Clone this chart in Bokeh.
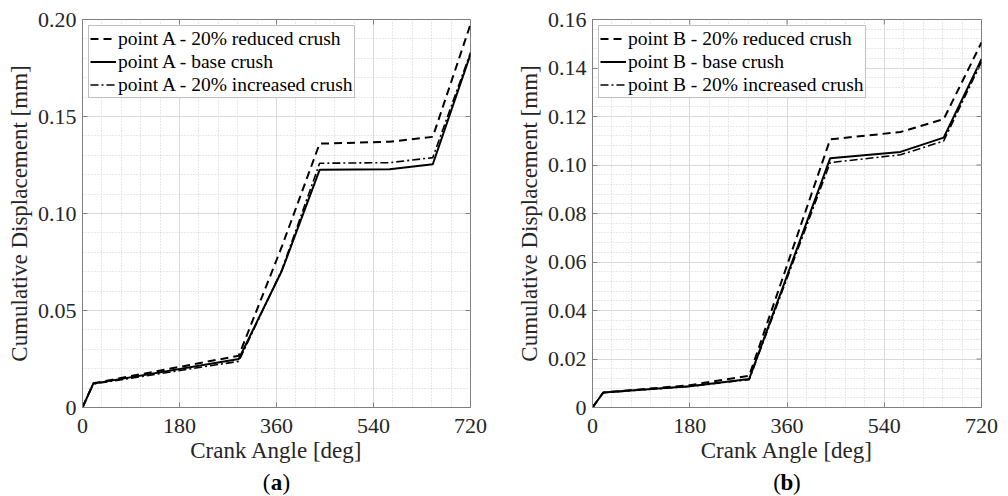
import math
from bokeh.plotting import figure
from bokeh.layouts import column, row
from bokeh.models import FixedTicker, CustomJSTickFormatter, Label, Legend, LegendItem
from bokeh.embed import file_html
from bokeh.resources import INLINE

# ---------------- data ----------------
angle_a = [0, 20, 290, 370, 440, 570, 650, 720]
a_reduced = [0, 0.0125, 0.0267, 0.083, 0.136, 0.137, 0.1395, 0.1975]
a_base = [0, 0.0123, 0.0250, 0.0705, 0.1225, 0.1228, 0.1254, 0.182]
a_increased = [0, 0.0121, 0.0238, 0.071, 0.1259, 0.1262, 0.1288, 0.183]

angle_b = [0, 20, 180, 290, 440, 570, 650, 720]
b_reduced = [0, 0.0062, 0.0092, 0.0131, 0.1106, 0.1136, 0.1189, 0.1505]
b_base = [0, 0.0062, 0.0088, 0.0118, 0.1028, 0.1054, 0.1113, 0.1436]
b_increased = [0, 0.0061, 0.0087, 0.0115, 0.1010, 0.1042, 0.1099, 0.1425]

x_ticks = [0, 180, 360, 540, 720]
x_minor = list(range(0, 721, 36))
a_yticks = [0, 0.05, 0.10, 0.15, 0.20]
a_yminor = [i / 100 for i in range(0, 21)]
b_yticks = [0, 0.02, 0.04, 0.06, 0.08, 0.10, 0.12, 0.14, 0.16]
b_yminor = [i * 0.004 for i in range(0, 41)]

FONT = "Liberation Serif"
H_MAIN = 468


def make_panel(angle, red, base, inc, ymax, yticks, yminor, pt, ml, mr):
    p = figure(width=504, height=H_MAIN, x_range=(0, 720), y_range=(0, ymax),
               output_backend="svg", toolbar_location=None,
               min_border_left=ml, min_border_right=mr, min_border_top=19,
               min_border_bottom=H_MAIN - 407, background_fill_color="white",
               border_fill_color="white")
    p.outline_line_color = "#808080"
    r1 = p.line(angle, red, line_color="black", line_width=2, line_dash="8 5")
    r2 = p.line(angle, base, line_color="black", line_width=2)
    r3 = p.line(angle, inc, line_color="black", line_width=1.6, line_dash="8 3 2 3")

    # inward ticks on the top and right edges (box)
    p.ray(x=x_ticks, y=[ymax] * len(x_ticks), length=5, length_units="screen",
          angle=-math.pi / 2, line_color="#808080", line_width=1)
    p.ray(x=[720] * len(yticks), y=yticks, length=5, length_units="screen",
          angle=math.pi, line_color="#808080", line_width=1)

    p.xaxis.ticker = FixedTicker(ticks=x_ticks, minor_ticks=x_minor)
    p.yaxis.ticker = FixedTicker(ticks=yticks, minor_ticks=yminor)
    p.yaxis.formatter = CustomJSTickFormatter(code="return tick == 0 ? '0' : tick.toFixed(2);")
    p.xaxis.axis_label = "Crank Angle [deg]"
    p.yaxis.axis_label = "Cumulative Displacement [mm]"
    for ax in (p.xaxis, p.yaxis):
        ax.axis_label_text_font = FONT
        ax.axis_label_text_font_size = "23px"
        ax.axis_label_text_font_style = "normal"
        ax.axis_label_text_color = "#262626"
        ax.major_label_text_font = FONT
        ax.major_label_text_font_size = "22px"
        ax.major_label_text_color = "#262626"
        ax.axis_line_color = "#808080"
        ax.major_tick_line_color = "#808080"
        ax.major_tick_in = 5
        ax.major_tick_out = 0
        ax.minor_tick_in = 0
        ax.minor_tick_out = 0
    p.yaxis.major_label_standoff = 6
    p.xaxis.major_label_standoff = 11
    p.yaxis.axis_label_standoff = 3
    p.xaxis.axis_label_standoff = 2

    p.xgrid.grid_line_color = "#d9d9d9"
    p.ygrid.grid_line_color = "#d9d9d9"
    p.xgrid.minor_grid_line_color = "#d0d0d0"
    p.ygrid.minor_grid_line_color = "#d0d0d0"
    p.xgrid.minor_grid_line_dash = "1 2"
    p.ygrid.minor_grid_line_dash = "1 2"

    legend = Legend(items=[
        LegendItem(label=f"point {pt} - 20% reduced crush", renderers=[r1]),
        LegendItem(label=f"point {pt} - base crush", renderers=[r2]),
        LegendItem(label=f"point {pt} - 20% increased crush", renderers=[r3]),
    ], location="top_left")
    legend.label_text_font = FONT
    legend.label_text_font_size = "19.5px"
    legend.label_text_color = "black"
    legend.margin = 6
    legend.padding = 1
    legend.spacing = 0
    legend.label_height = 23
    legend.glyph_height = 23
    legend.glyph_width = 26
    legend.label_standoff = 2
    legend.border_line_color = "#808080"
    legend.border_line_width = 1
    legend.background_fill_alpha = 1
    p.add_layout(legend, "center")
    return p


def make_tag(tag, ml, mr):
    t = figure(width=504, height=496 - H_MAIN, x_axis_type=None, y_axis_type=None,
               output_backend="svg", toolbar_location=None,
               min_border_left=0, min_border_right=0, min_border_top=0, min_border_bottom=0,
               background_fill_color="white", border_fill_color="white")
    t.outline_line_color = None
    t.xgrid.visible = False
    t.ygrid.visible = False
    cx = ml + (504 - ml - mr) / 2
    yb = 496 - 482
    common = dict(x_units="screen", y_units="screen", y=yb, text_font=FONT,
                  text_font_size="23px", text_baseline="middle", text_color="black")
    t.add_layout(Label(x=cx - 6, text="(", text_align="right", **common))
    t.add_layout(Label(x=cx, text=tag, text_align="center", text_font_style="bold", **common))
    t.add_layout(Label(x=cx + 6, text=")", text_align="left", **common))
    return t


pa = make_panel(angle_a, a_reduced, a_base, a_increased, 0.20, a_yticks, a_yminor, "A", 82, 34)
pb = make_panel(angle_b, b_reduced, b_base, b_increased, 0.16, b_yticks, b_yminor, "B", 88, 27)
ta = make_tag("a", 82, 34)
tb = make_tag("b", 88, 27)

layout = column(row(pa, pb), row(ta, tb), spacing=0)
open("out.html", "w").write(file_html(layout, INLINE))
